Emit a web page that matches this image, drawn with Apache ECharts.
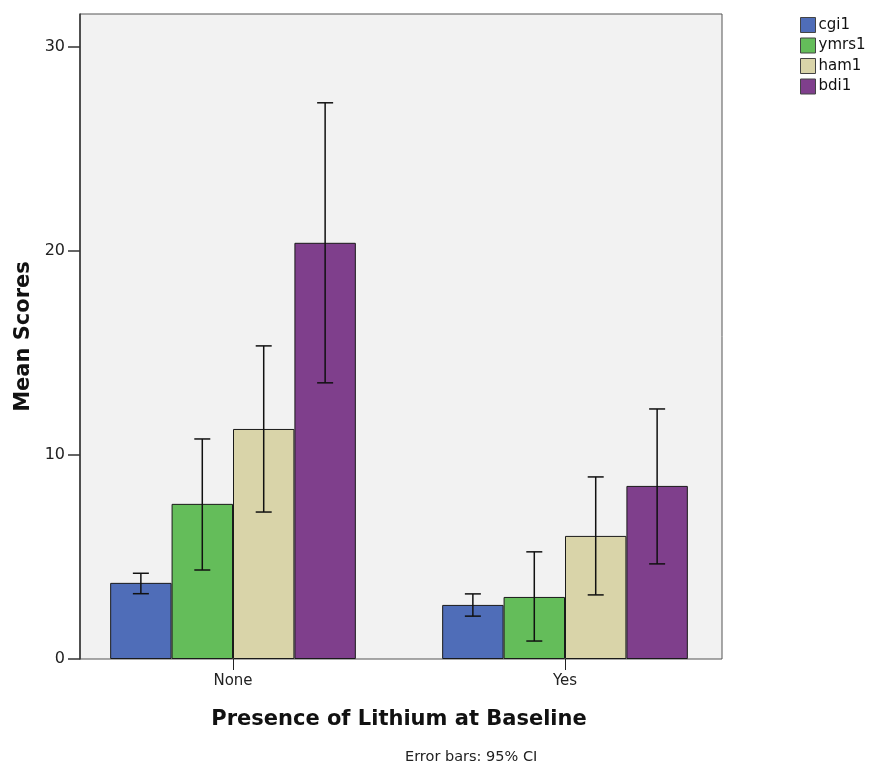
<!DOCTYPE html>
<html>
<head>
<meta charset="utf-8">
<script src="https://cdn.jsdelivr.net/npm/echarts@6/dist/echarts.min.js"></script>
<style>
  html, body { margin: 0; padding: 0; background: #fff; }
  #chart { width: 874px; height: 769px; }
</style>
</head>
<body>
<div id="chart"></div>
<script>
var categories = ['None', 'Yes']
var seriesNames = ['cgi1', 'ymrs1', 'ham1', 'bdi1']
var colors = ['#4f6db8', '#64bd5a', '#d9d4a9', '#7f3f8c']

// mean per group (None, Yes)
var cgi1 = [3.73, 2.65]
var ymrs1 = [7.6, 3.04]
var ham1 = [11.27, 6.03]
var bdi1 = [20.39, 8.48]

// 95% CI low / high
var cgi1Low = [3.2, 2.1], cgi1High = [4.2, 3.19]
var ymrs1Low = [4.36, 0.88], ymrs1High = [10.78, 5.25]
var ham1Low = [7.2, 3.14], ham1High = [15.34, 8.92]
var bdi1Low = [13.53, 4.66], bdi1High = [27.25, 12.25]

var yTicks = [0, 10, 20, 30]

var means = [cgi1, ymrs1, ham1, bdi1]
var lows = [cgi1Low, ymrs1Low, ham1Low, bdi1Low]
var highs = [cgi1High, ymrs1High, ham1High, bdi1High]

var chart = echarts.init(document.getElementById('chart'))
var font = 'DejaVu Sans'
var gapPct = 0.26

var series = []
seriesNames.forEach(function (name, i) {
  series.push({
    name: name,
    type: 'bar',
    xAxisIndex: 1,
    yAxisIndex: 1,
    barGap: '0%',
    barCategoryGap: (gapPct * 100) + '%',
    itemStyle: { color: colors[i], borderColor: '#1a1a1a', borderWidth: 1 },
    data: means[i]
  })
})

// error bars
seriesNames.forEach(function (name, i) {
  var data = categories.map(function (c, k) { return [k, lows[i][k], highs[i][k]] })
  series.push({
    type: 'custom',
    xAxisIndex: 1,
    yAxisIndex: 1,
    silent: true,
    z: 10,
    data: data,
    renderItem: function (params, api) {
      var k = api.value(0)
      var band = api.size([1, 0])[0]
      var bw = band * (1 - gapPct) / 4
      var lo = api.coord([k, api.value(1)])
      var hi = api.coord([k, api.value(2)])
      var x = lo[0] + (i - 1.5) * bw
      var cap = 8
      var style = { stroke: '#111', lineWidth: 1.5 }
      return {
        type: 'group',
        children: [
          { type: 'line', shape: { x1: x, y1: lo[1], x2: x, y2: hi[1] }, style: style },
          { type: 'line', shape: { x1: x - cap, y1: lo[1], x2: x + cap, y2: lo[1] }, style: style },
          { type: 'line', shape: { x1: x - cap, y1: hi[1], x2: x + cap, y2: hi[1] }, style: style }
        ]
      }
    }
  })
})

var option = {
  animation: false,
  textStyle: { fontFamily: font },
  legend: {
    orient: 'vertical',
    left: 795,
    top: 12,
    itemWidth: 15,
    itemHeight: 15,
    itemGap: 4.5,
    icon: 'rect',
    data: seriesNames.map(function (n, i) {
      return { name: n, itemStyle: { borderColor: '#444', borderWidth: 1 } }
    }),
    textStyle: { fontFamily: font, fontSize: 15, color: '#111', padding: [0, 0, 0, -2] }
  },
  grid: [
    { left: 80, top: 14, width: 642, height: 645, show: true,
      backgroundColor: '#f2f2f2', borderColor: '#555', borderWidth: 1 },
    { left: 67, top: 14, width: 664, height: 645 }
  ],
  xAxis: [
    { gridIndex: 0, type: 'value', min: 0, max: 1, show: false },
    {
      gridIndex: 1,
      type: 'category',
      data: categories,
      axisLine: { show: false },
      axisTick: { show: true, alignWithLabel: true, length: 11, lineStyle: { color: '#222' } },
      axisLabel: { fontSize: 15, color: '#222', margin: 15 },
      name: 'Presence of Lithium at Baseline',
      nameLocation: 'middle',
      nameGap: 50,
      nameTextStyle: { fontSize: 21, fontWeight: 'bold', color: '#111' }
    }
  ],
  yAxis: [
    {
      gridIndex: 0,
      type: 'value',
      min: 0,
      max: 31.6,
      interval: 10,
      axisLine: { show: true, lineStyle: { color: '#333', width: 1.5 } },
      axisTick: { show: true, length: 12, customValues: yTicks, lineStyle: { color: '#333', width: 1.5 } },
      axisLabel: { fontSize: 16, color: '#222', margin: 15, customValues: yTicks },
      splitLine: { show: false },
      name: 'Mean Scores',
      nameLocation: 'middle',
      nameGap: 44,
      nameTextStyle: { fontSize: 21, fontWeight: 'bold', color: '#111' }
    },
    { gridIndex: 1, type: 'value', min: 0, max: 31.6, show: false }
  ],
  graphic: [
    { type: 'text', left: 405, top: 750,
      style: { text: 'Error bars: 95% CI', fontFamily: font, fontSize: 14.5, fill: '#222' } }
  ],
  series: series
}
chart.setOption(option)
</script>
</body>
</html>
